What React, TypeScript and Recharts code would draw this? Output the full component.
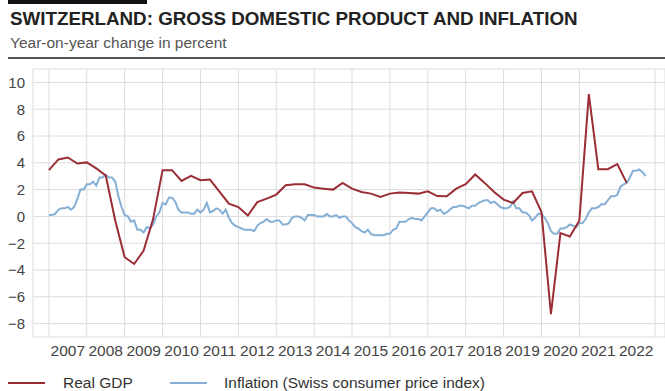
import React from 'react';
import { LineChart, Line, XAxis, YAxis, CartesianGrid } from 'recharts';

// Real GDP, year-on-year % change, quarterly (2007 Q1 .. 2022 Q2)
const gdpQuarterly = [
  3.45, 4.25, 4.4, 3.95,
  4.03, 3.58, 3.05, -0.3,
  -3.05, -3.55, -2.55, -0.2,
  3.45, 3.45, 2.65, 3.03,
  2.7, 2.75, 1.85, 0.95,
  0.7, 0.07, 1.07, 1.33,
  1.63, 2.33, 2.4, 2.4,
  2.15, 2.07, 2.0, 2.5,
  2.07, 1.82, 1.7, 1.45,
  1.7, 1.78, 1.75, 1.7,
  1.87, 1.52, 1.5, 2.07,
  2.4, 3.13, 2.5, 1.82,
  1.25, 1.0, 1.75, 1.87,
  0.32, -7.3, -1.25, -1.5,
  -0.3, 9.13, 3.52, 3.52,
  3.9, 2.5,
];

// Inflation (Swiss CPI), year-on-year % change, monthly (Jan 2007 .. Oct 2022)
const cpiMonthly = [
  0.1, 0.1, 0.2, 0.5, 0.6, 0.6, 0.7, 0.5, 0.7, 1.3, 2.0, 2.0,
  2.4, 2.4, 2.6, 2.3, 2.9, 2.9, 3.1, 2.9, 2.9, 2.6, 1.5, 0.7,
  0.1, 0.0, -0.4, -0.3, -1.0, -1.0, -1.2, -0.8, -0.9, -0.6, 0.0, 0.3,
  1.0, 0.9, 1.4, 1.4, 1.1, 0.5, 0.3, 0.3, 0.3, 0.2, 0.2, 0.5,
  0.3, 0.5, 1.0, 0.3, 0.4, 0.6, 0.5, 0.2, 0.5, -0.1, -0.5, -0.7,
  -0.8, -0.9, -1.0, -1.0, -1.0, -1.1, -0.7, -0.5, -0.4, -0.2, -0.4, -0.4,
  -0.3, -0.3, -0.6, -0.6, -0.5, -0.1, 0.0, 0.0, -0.1, -0.3, 0.1, 0.1,
  0.1, 0.0, 0.0, 0.0, 0.2, 0.0, 0.0, 0.1, -0.1, 0.0, 0.0, -0.3,
  -0.5, -0.8, -0.9, -1.1, -1.2, -1.0, -1.3, -1.4, -1.4, -1.4, -1.4, -1.3,
  -1.3, -1.0, -0.9, -0.4, -0.4, -0.4, -0.2, -0.1, -0.2, -0.2, -0.3, 0.0,
  0.3, 0.6, 0.6, 0.4, 0.5, 0.2, 0.3, 0.5, 0.7, 0.7, 0.8, 0.8,
  0.7, 0.6, 0.8, 0.8, 1.0, 1.1, 1.2, 1.2, 1.0, 1.1, 0.9, 0.7,
  0.6, 0.6, 0.7, 1.1, 0.6, 0.6, 0.3, 0.3, 0.1, -0.3, -0.1, 0.2,
  0.2, -0.1, -0.5, -1.1, -1.3, -1.3, -0.9, -0.9, -0.8, -0.6, -0.7, -0.8,
  -0.5, -0.5, -0.2, 0.3, 0.6, 0.6, 0.7, 0.9, 0.9, 1.2, 1.5, 1.5,
  1.6, 2.2, 2.4, 2.5, 2.9, 3.4, 3.4, 3.5, 3.3, 3.0,
];

const yearLabels = [
  '2007', '2008', '2009', '2010', '2011', '2012', '2013', '2014',
  '2015', '2016', '2017', '2018', '2019', '2020', '2021', '2022',
];
const yTicks = [-8, -6, -4, -2, 0, 2, 4, 6, 8, 10];

const FIRST_YEAR = Number(yearLabels[0]);
const gdpData = gdpQuarterly.map((v, i) => ({ t: FIRST_YEAR + i / 4, gdp: v }));
const cpiData = cpiMonthly.map((v, i) => ({ t: FIRST_YEAR + i / 12, cpi: v }));
const boundaryTicks = [...yearLabels.map(Number), FIRST_YEAR + yearLabels.length];
const labelTicks = yearLabels.map((y) => Number(y) + 0.5);
const xDomain: [number, number] = [2006.58, 2023.26];

const RED = '#9b2d36';
const BLUE = '#86afd6';
const FONT = '"Liberation Sans", Arial, Helvetica, sans-serif';

export default function App() {
  return (
    <div
      style={{
        position: 'absolute',
        left: 0,
        top: 0,
        width: 665,
        height: 391,
        background: '#fff',
        fontFamily: FONT,
        overflow: 'hidden',
      }}
    >
      <div style={{ position: 'absolute', left: 8, top: 0, width: 139, height: 4, background: '#111' }} />
      <div
        style={{
          position: 'absolute',
          left: 10,
          top: 9,
          fontSize: 18.8,
          lineHeight: '19px',
          fontWeight: 700,
          color: '#222',
          whiteSpace: 'nowrap',
        }}
      >
        SWITZERLAND: GROSS DOMESTIC PRODUCT AND INFLATION
      </div>
      <div
        style={{
          position: 'absolute',
          left: 10,
          top: 35,
          fontSize: 15.5,
          lineHeight: '16px',
          color: '#555',
          whiteSpace: 'nowrap',
        }}
      >
        Year-on-year change in percent
      </div>
      <div style={{ position: 'absolute', left: 8, top: 57, width: 657, height: 2, background: '#555' }} />

      <div style={{ position: 'absolute', left: 0, top: 0 }}>
        <LineChart
          width={665}
          height={391}
          margin={{ top: 69, right: 0, bottom: 0, left: 0 }}
        >
          <CartesianGrid xAxisId="grid" stroke="#dcdcdc" strokeWidth={1} />
          <XAxis
            xAxisId="lab"
            type="number"
            dataKey="t"
            domain={xDomain}
            ticks={labelTicks}
            interval={0}
            allowDataOverflow
            tickFormatter={(v: number) => String(Math.floor(v))}
            tickLine={false}
            axisLine={false}
            height={54}
            tick={{ fill: '#444', fontSize: 15.5 }}
          />
          <XAxis
            xAxisId="grid"
            type="number"
            dataKey="t"
            domain={xDomain}
            ticks={boundaryTicks}
            allowDataOverflow
            height={0}
            hide
          />
          <YAxis
            type="number"
            domain={[-9, 11]}
            ticks={yTicks}
            interval={0}
            tickLine={false}
            axisLine={false}
            width={33}
            tickFormatter={(v: number) => (v < 0 ? '\u2212' + Math.abs(v) : String(v))}
            tick={{ fill: '#444', fontSize: 15 }}
          />
          <Line
            xAxisId="grid"
            data={cpiData}
            dataKey="cpi"
            type="linear"
            stroke={BLUE}
            strokeWidth={2}
            dot={false}
            isAnimationActive={false}
          />
          <Line
            xAxisId="grid"
            data={gdpData}
            dataKey="gdp"
            type="linear"
            stroke={RED}
            strokeWidth={2}
            dot={false}
            isAnimationActive={false}
          />
        </LineChart>
      </div>

      <div style={{ position: 'absolute', left: 8, top: 382, width: 37, height: 2, background: RED }} />
      <div
        style={{ position: 'absolute', left: 63, top: 374, fontSize: 15.5, lineHeight: '17px', color: '#333', whiteSpace: 'nowrap' }}
      >
        Real GDP
      </div>
      <div style={{ position: 'absolute', left: 170, top: 382, width: 37, height: 2, background: BLUE }} />
      <div
        style={{ position: 'absolute', left: 224, top: 374, fontSize: 15.5, lineHeight: '17px', color: '#333', whiteSpace: 'nowrap' }}
      >
        Inflation (Swiss consumer price index)
      </div>
    </div>
  );
}
